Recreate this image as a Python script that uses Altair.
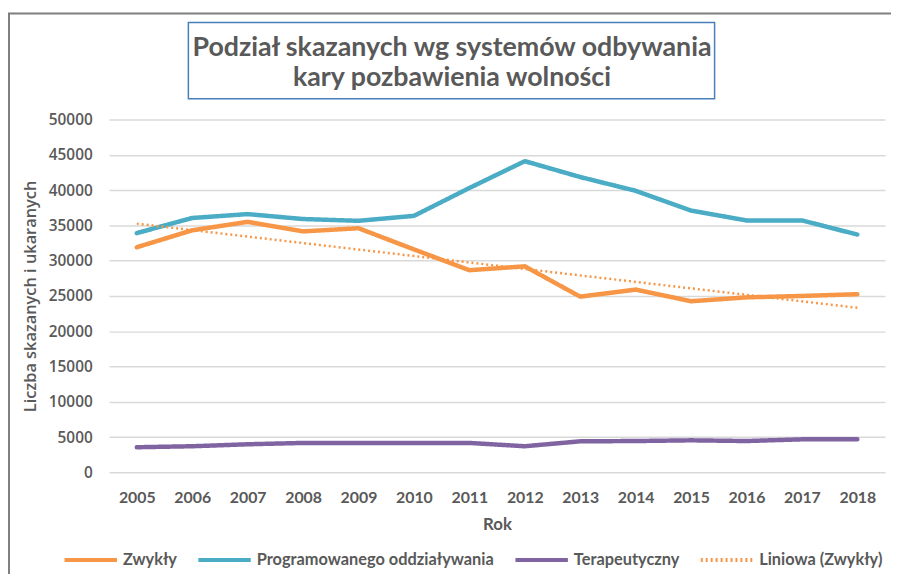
import altair as alt
import pandas as pd

years = [2005, 2006, 2007, 2008, 2009, 2010, 2011, 2012, 2013, 2014, 2015, 2016, 2017, 2018]
zwykly = [31900, 34300, 35500, 34150, 34600, 31600, 28650, 29200, 24900, 25900, 24250, 24800, 25000, 25250]
programowanego = [33900, 36050, 36600, 35900, 35650, 36350, 40300, 44100, 41850, 39900, 37100, 35700, 35700, 33700]
terapeutyczny = [3560, 3700, 3980, 4170, 4170, 4170, 4170, 3700, 4400, 4440, 4540, 4440, 4680, 4700]

series_names = ["Zwykły", "Programowanego oddziaływania", "Terapeutyczny", "Liniowa (Zwykły)"]
series_colors = ["#F79646", "#4BACC6", "#8064A2", "#F79646"]
series_dash = [[1, 0], [1, 0], [1, 0], [2, 3]]
y_ticks = [0, 5000, 10000, 15000, 20000, 25000, 30000, 35000, 40000, 45000, 50000]
title_lines = ["Podział skazanych wg systemów odbywania", "kary pozbawienia wolności"]

rows = []
for name, vals in zip(series_names[:3], [zwykly, programowanego, terapeutyczny]):
    for yr, v in zip(years, vals):
        rows.append({"Rok": yr, "value": v, "series": name})
df = pd.DataFrame(rows)

grey = "#595959"

color_scale = alt.Scale(domain=series_names, range=series_colors)
dash_scale = alt.Scale(domain=series_names, range=series_dash)

legend = alt.Legend(
    title=None, orient="none", legendX=-47, legendY=416, direction="horizontal", columns=4,
    symbolType="stroke", symbolSize=2800, symbolStrokeWidth=4,
    labelFont="Lato", labelFontWeight="bold", labelFontSize=16.5,
    labelColor=grey, labelOffset=4, columnPadding=13, labelLimit=400,
)

x_axis = alt.Axis(labelAngle=0, labelFont="Lato", labelFontWeight="bold",
                  labelFontSize=16, labelPadding=17, titleFont="Lato",
                  titleFontWeight="bold", titleFontSize=17, titlePadding=12,
                  grid=False)
y_axis = alt.Axis(values=y_ticks, format="d", labelOverlap=False,
                  labelFont="Open Sans", labelFontWeight=600, labelFontSize=15.5,
                  labelPadding=17, titleFont="Open Sans", titleFontWeight=600,
                  titleFontSize=16.5, titlePadding=10,
                  gridColor="#D9D9D9", gridWidth=1.5)
x_scale = alt.Scale(domain=years, paddingOuter=0.5)
y_scale = alt.Scale(domain=[0, 50000], nice=False)


def enc(chart):
    return chart.encode(
        x=alt.X("Rok:O", title="Rok", scale=x_scale, axis=x_axis),
        y=alt.Y("value:Q", title="Liczba skazanych i ukaranych", scale=y_scale, axis=y_axis),
        color=alt.Color("series:N", scale=color_scale, legend=legend),
        strokeDash=alt.StrokeDash("series:N", scale=dash_scale, legend=legend),
        detail="series:N",
    )


base = alt.Chart(df)

lines = enc(base.mark_line(strokeCap="round", strokeJoin="round", strokeWidth=4.5))

trend = enc(base.transform_filter(
    alt.datum.series == series_names[0]
).transform_regression(
    "Rok", "value", method="linear"
).transform_calculate(
    series="'" + series_names[3] + "'"
).mark_line(strokeWidth=2.5))

one = alt.Data(values=[{"a": 1}])

box = alt.Chart(one).mark_rect(fill="white", stroke="#4A7EBB", strokeWidth=1.5).encode(
    x=alt.value(80), x2=alt.value(611), y=alt.value(-98), y2=alt.value(-21)
)
title1 = alt.Chart(one).mark_text(font="Lato", fontWeight="bold", fontSize=27, color=grey,
                                  baseline="middle", align="center").encode(
    x=alt.value(346), y=alt.value(-72), text=alt.value(title_lines[0]))
title2 = alt.Chart(one).mark_text(font="Lato", fontWeight="bold", fontSize=27, color=grey,
                                  baseline="middle", align="center").encode(
    x=alt.value(346), y=alt.value(-42), text=alt.value(title_lines[1]))

frame_top = alt.Chart(one).mark_rule(color="#7F7F7F", strokeWidth=2).encode(
    x=alt.value(-102), x2=alt.value(789), y=alt.value(-107))
frame_left = alt.Chart(one).mark_rule(color="#7F7F7F", strokeWidth=2).encode(
    x=alt.value(-101), y=alt.value(-107), y2=alt.value(470))

chart = alt.layer(frame_top, frame_left, box, title1, title2, lines, trend).properties(
    width=783, height=356,
    autosize=alt.AutoSizeParams(type="none"),
    padding={"left": 102, "top": 110, "right": 6, "bottom": 100},
).configure_view(stroke=None).configure_axis(
    labelColor=grey, titleColor=grey, domain=False, ticks=False
)

chart.save("out.html", embed_options={"renderer": "svg", "actions": False})
